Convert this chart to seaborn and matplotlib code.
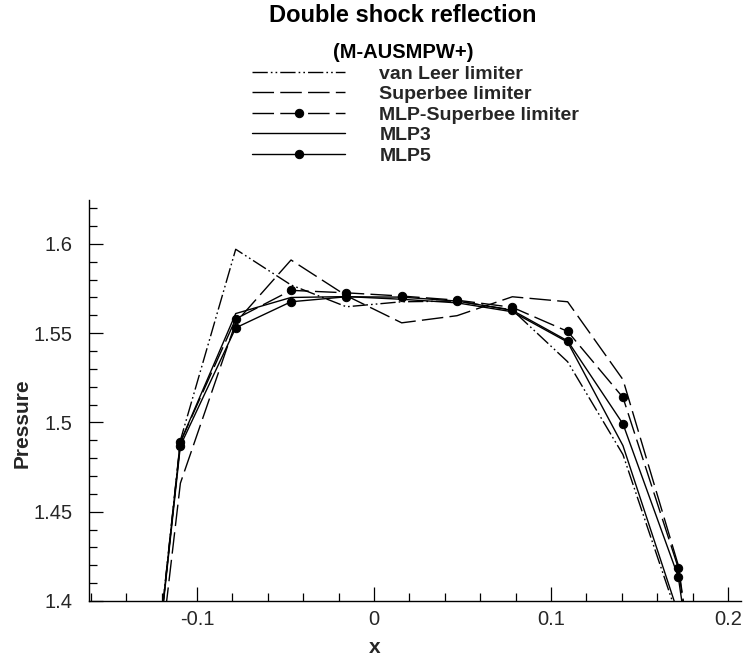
import numpy as np
import pandas as pd
import matplotlib
matplotlib.use("Agg")
import matplotlib.pyplot as plt
from matplotlib.ticker import MultipleLocator, FixedLocator
import seaborn as sns

# ---- data ----
x_vals = [-0.140625, -0.109375, -0.078125, -0.046875, -0.015625, 0.015625,
          0.046875, 0.078125, 0.109375, 0.140625, 0.171875, 0.203125]
van_leer = [1.20, 1.490, 1.597, 1.577, 1.5648, 1.5676, 1.5680, 1.5630, 1.534, 1.482, 1.390, 1.20]
superbee = [1.20, 1.466, 1.556, 1.591, 1.5710, 1.5558, 1.5598, 1.5704, 1.5676, 1.524, 1.420, 1.20]
mlp_superbee = [1.20, 1.489, 1.558, 1.574, 1.5726, 1.5708, 1.5685, 1.5645, 1.551, 1.514, 1.4185, 1.20]
mlp3 = [1.20, 1.489, 1.561, 1.570, 1.5705, 1.5690, 1.5670, 1.5620, 1.545, 1.487, 1.393, 1.20]
mlp5 = [1.20, 1.487, 1.553, 1.5676, 1.5704, 1.5702, 1.5680, 1.5628, 1.5457, 1.4992, 1.4135, 1.20]

series_names = ["van Leer limiter", "Superbee limiter", "MLP-Superbee limiter", "MLP3", "MLP5"]
series_vals = [van_leer, superbee, mlp_superbee, mlp3, mlp5]

x_ticks = [-0.1, 0, 0.1, 0.2]
x_ticklabels = ["-0.1", "0", "0.1", "0.2"]
y_ticks = [1.4, 1.45, 1.5, 1.55, 1.6]
y_ticklabels = ["1.4", "1.45", "1.5", "1.55", "1.6"]

title_text = "Double shock reflection"
subtitle_text = "(M-AUSMPW+)"

# ---- styling ----
sns.set_theme(style="white")
plt.rcParams["font.family"] = ["Liberation Sans", "DejaVu Sans"]

styles = {
    "van Leer limiter": dict(linestyle=(0, (11, 2.2, 1.2, 2.2, 1.2, 2.2)), marker=None),
    "Superbee limiter": dict(linestyle=(0, (15.5, 4.5)), marker=None),
    "MLP-Superbee limiter": dict(linestyle=(0, (15.5, 4.5)), marker="o"),
    "MLP3": dict(linestyle="-", marker=None),
    "MLP5": dict(linestyle="-", marker="o"),
}

fig = plt.figure(figsize=(7.46, 6.63), dpi=100)
ax = fig.add_axes([89 / 746, 62 / 663, (741 - 89) / 746, (601 - 200) / 663])

for name, vals in zip(series_names, series_vals):
    df = pd.DataFrame({"x": x_vals, "Pressure": vals})
    st = styles[name]
    kw = dict(color="black", linewidth=1.0, linestyle=st["linestyle"], label=name)
    if st["marker"]:
        kw.update(marker="o", markersize=6, markerfacecolor="black", markeredgecolor="black")
    sns.lineplot(data=df, x="x", y="Pressure", ax=ax, sort=False, errorbar=None, **kw)

ax.set_xlim(-0.161, 0.2073)
ax.set_ylim(1.4, 1.6246)

ax.xaxis.set_major_locator(FixedLocator(x_ticks))
ax.set_xticklabels(x_ticklabels)
ax.xaxis.set_minor_locator(MultipleLocator(0.02))
ax.yaxis.set_major_locator(FixedLocator(y_ticks))
ax.set_yticklabels(y_ticklabels)
ax.yaxis.set_minor_locator(MultipleLocator(0.01))

ax.tick_params(which="both", direction="in", color="black", width=0.9,
               bottom=True, left=True, top=False, right=False)
ax.tick_params(which="major", length=10)
ax.tick_params(which="minor", length=6)
ax.tick_params(axis="x", which="major", labelsize=14.5, pad=6.5)
ax.tick_params(axis="y", which="major", labelsize=14.5, pad=12)

for s in ["top", "right"]:
    ax.spines[s].set_visible(False)
for s in ["left", "bottom"]:
    ax.spines[s].set_color("black")
    ax.spines[s].set_linewidth(1.0)

ax.set_xlabel("x", fontsize=15, fontweight="bold")
ax.set_ylabel("Pressure", fontsize=15, fontweight="bold")
ax.xaxis.set_label_coords((375 - 89) / 652, -0.092)
ax.yaxis.set_label_coords((32 - 89) / 652, (601 - 423) / 401)

fig.text(403 / 746, 1 - 16 / 663, title_text, ha="center", va="center",
         fontsize=17, fontweight="bold", color="black")
fig.text(403 / 746, 1 - 52 / 663, subtitle_text, ha="center", va="center",
         fontsize=14.5, fontweight="bold", color="black")

handles, labels = ax.get_legend_handles_labels()
leg = fig.legend(handles, labels, loc="upper left",
                 bbox_to_anchor=(252 / 746, 1 - 65 / 663),
                 frameon=False, borderpad=0, borderaxespad=0,
                 handlelength=4.8, handletextpad=1.75, labelspacing=0.15,
                 numpoints=1, prop=dict(size=14, weight="bold"))
if ax.legend_ is not None:
    ax.legend_.remove()

fig.savefig("out.png", dpi=100)
